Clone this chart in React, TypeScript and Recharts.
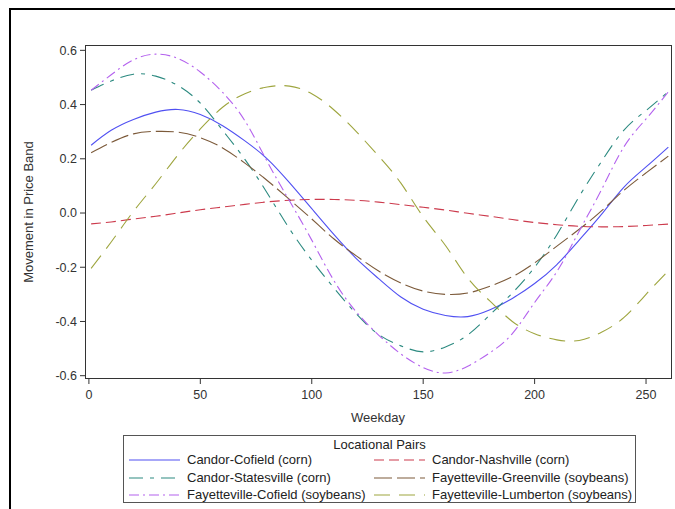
import React from 'react';
import { LineChart, Line, XAxis, YAxis } from 'recharts';

// weekday positions
const weekdays = [1, 10, 20, 30, 40, 50, 60, 70, 80, 90, 100, 110, 120, 130, 140, 150, 160, 170, 180, 190, 200, 210, 220, 230, 240, 250, 260];

const candorCofield = [0.25, 0.305, 0.345, 0.372, 0.382, 0.363, 0.322, 0.266, 0.2, 0.112, 0.016, -0.08, -0.168, -0.242, -0.31, -0.355, -0.378, -0.382, -0.357, -0.315, -0.26, -0.19, -0.1, -0.005, 0.095, 0.17, 0.243];
const candorNashville = [-0.04, -0.033, -0.022, -0.012, 0.0, 0.012, 0.022, 0.032, 0.041, 0.047, 0.05, 0.05, 0.047, 0.04, 0.031, 0.021, 0.011, -0.001, -0.012, -0.024, -0.035, -0.043, -0.049, -0.051, -0.05, -0.046, -0.041];
const candorStatesville = [0.453, 0.487, 0.512, 0.505, 0.47, 0.405, 0.305, 0.198, 0.074, -0.058, -0.174, -0.277, -0.372, -0.448, -0.49, -0.512, -0.494, -0.45, -0.375, -0.295, -0.2, -0.08, 0.061, 0.19, 0.305, 0.378, 0.448];
const fayettevilleGreenville = [0.222, 0.26, 0.292, 0.301, 0.298, 0.278, 0.24, 0.184, 0.12, 0.05, -0.022, -0.096, -0.158, -0.214, -0.258, -0.288, -0.3, -0.295, -0.27, -0.235, -0.184, -0.122, -0.06, 0.008, 0.083, 0.148, 0.21];
const fayettevilleCofield = [0.453, 0.51, 0.565, 0.586, 0.57, 0.52, 0.445, 0.34, 0.19, 0.045, -0.1, -0.25, -0.365, -0.45, -0.52, -0.57, -0.59, -0.565, -0.515, -0.445, -0.33, -0.216, -0.067, 0.086, 0.243, 0.347, 0.447];
const fayettevilleLumberton = [-0.204, -0.107, 0.006, 0.108, 0.215, 0.31, 0.39, 0.44, 0.465, 0.468, 0.44, 0.38, 0.3, 0.21, 0.11, -0.014, -0.12, -0.24, -0.325, -0.4, -0.445, -0.468, -0.47, -0.44, -0.386, -0.3, -0.213];

const yTicks = [-0.6, -0.4, -0.2, 0, 0.2, 0.4, 0.6];
const xTicks = [0, 50, 100, 150, 200, 250];

// legend order (row by row)
const series = [
  { key: 'cc', name: 'Candor-Cofield (corn)', color: '#5050F2', dash: undefined, values: candorCofield },
  { key: 'cn', name: 'Candor-Nashville (corn)', color: '#CC3A4C', dash: '10 5', values: candorNashville },
  { key: 'cs', name: 'Candor-Statesville (corn)', color: '#2C8A80', dash: '14 7 4 7', values: candorStatesville },
  { key: 'fg', name: 'Fayetteville-Greenville (soybeans)', color: '#7C5A3A', dash: '18 5', values: fayettevilleGreenville },
  { key: 'fc', name: 'Fayetteville-Cofield (soybeans)', color: '#B462EE', dash: '10 4 2 4', values: fayettevilleCofield },
  { key: 'fl', name: 'Fayetteville-Lumberton (soybeans)', color: '#9EA53E', dash: '16 9', values: fayettevilleLumberton },
];

const data = weekdays.map((day, i) => {
  const row: Record<string, number> = { day };
  series.forEach((s) => {
    row[s.key] = s.values[i];
  });
  return row;
});

const FONT = '"Liberation Sans", Arial, sans-serif';
const AXIS = '#333';

const LegendBox = () => (
  <div
    style={{
      position: 'absolute',
      left: 115,
      top: 427,
      width: 511,
      height: 66,
      border: '1px solid #555',
      fontFamily: FONT,
      fontSize: 13,
      color: '#222',
    }}
  >
    <div style={{ position: 'absolute', top: 1, width: '100%', textAlign: 'center' }}>Locational Pairs</div>
    {series.map((s, i) => {
      const col = i % 2;
      const row = Math.floor(i / 2);
      const left = col === 0 ? 5 : 250;
      const top = 16 + row * 17.5;
      return (
        <div key={s.key} style={{ position: 'absolute', left, top, height: 16, whiteSpace: 'nowrap' }}>
          <svg width={52} height={16} style={{ position: 'absolute', left: 0, top: 0 }}>
            <line x1={0} y1={8} x2={51} y2={8} stroke={s.color} strokeWidth={1.2} strokeDasharray={s.dash} />
          </svg>
          <span style={{ position: 'absolute', left: 58, top: 0, lineHeight: '16px' }}>{s.name}</span>
        </div>
      );
    })}
  </div>
);

const App: React.FC = () => {
  return (
    // fixed so the page never gets scrollbars
    <div style={{ position: 'fixed', left: 8, top: 8, width: 667, height: 501, overflow: 'hidden', background: '#fff' }}>
      <div
        style={{
          position: 'absolute',
          left: 1,
          top: 0,
          width: 700,
          height: 600,
          borderTop: '2px solid #000',
          borderLeft: '2px solid #000',
        }}
      />
      <div style={{ position: 'absolute', left: 0, top: 0 }}>
        <LineChart width={667} height={420} data={data} margin={{ top: 38, right: 4, bottom: 0, left: 0 }}>
          <XAxis
            dataKey="day"
            type="number"
            domain={[-1.3, 261.2]}
            ticks={xTicks}
            interval={0}
            allowDataOverflow
            height={50}
            tickSize={6}
            tickMargin={6}
            axisLine={false}
            stroke={AXIS}
            tick={{ fill: AXIS, fontSize: 12.5, fontFamily: FONT }}
          />
          <YAxis
            type="number"
            domain={[-0.6085, 0.616]}
            ticks={yTicks}
            interval={0}
            allowDataOverflow
            width={78}
            tickSize={6}
            tickMargin={3}
            axisLine={false}
            tickFormatter={(v: number) => v.toFixed(1)}
            stroke={AXIS}
            tick={{ fill: AXIS, fontSize: 12.5, fontFamily: FONT }}
          />
          {series.map((s) => (
            <Line
              key={s.key}
              dataKey={s.key}
              name={s.name}
              type="natural"
              stroke={s.color}
              strokeWidth={1.1}
              strokeDasharray={s.dash}
              dot={false}
              activeDot={false}
              isAnimationActive={false}
            />
          ))}
        </LineChart>
      </div>
      {/* plot frame */}
      <div
        style={{
          position: 'absolute',
          left: 77,
          top: 37,
          width: 587,
          height: 334,
          boxSizing: 'border-box',
          border: '1px solid #333',
          pointerEvents: 'none',
        }}
      />
      <div
        style={{
          position: 'absolute',
          left: 21 - 80,
          top: 204 - 8,
          width: 160,
          textAlign: 'center',
          transform: 'rotate(-90deg)',
          fontFamily: FONT,
          fontSize: 13,
          color: AXIS,
          lineHeight: '16px',
        }}
      >
        Movement in Price Band
      </div>
      <div
        style={{
          position: 'absolute',
          left: 370 - 50,
          top: 402,
          width: 100,
          textAlign: 'center',
          fontFamily: FONT,
          fontSize: 13,
          color: AXIS,
        }}
      >
        Weekday
      </div>
      <LegendBox />
    </div>
  );
};

export default App;
